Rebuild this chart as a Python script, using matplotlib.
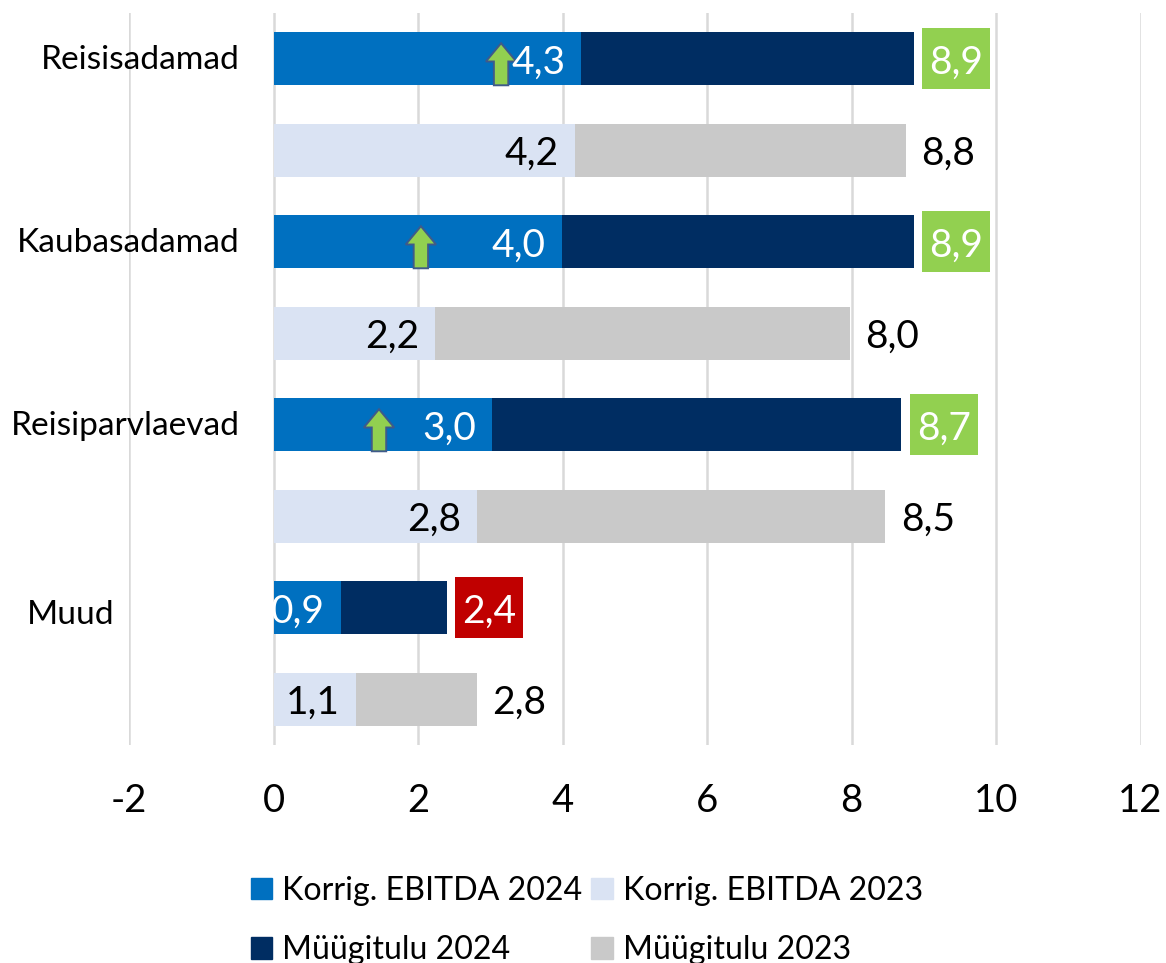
import matplotlib
matplotlib.use("Agg")
import matplotlib.pyplot as plt
from matplotlib.patches import FancyArrow
from matplotlib.path import Path

plt.rcParams['font.family'] = ['Lato', 'DejaVu Sans']

categories = ['Reisisadamad', 'Kaubasadamad', 'Reisiparvlaevad', 'Muud']
ebitda_2024 = [4.26, 3.99, 3.03, 0.93]
ebitda_2023 = [4.17, 2.24, 2.82, 1.14]
revenue_2024 = [8.86, 8.86, 8.69, 2.40]
revenue_2023 = [8.75, 7.98, 8.47, 2.82]
box_colors = ['#92D050', '#92D050', '#92D050', '#C00000']
arrow_x = [3.15, 2.04, 1.46]
xticks = [-2, 0, 2, 4, 6, 8, 10, 12]

C_E24, C_E23, C_R24, C_R23 = '#0070C0', '#DAE3F3', '#002D62', '#C9C9C9'
W, H = 1166, 963
fig = plt.figure(figsize=(W/100, H/100), dpi=100, facecolor='white')
ax = fig.add_axes([129/W, 1-745/H, (1140.5-129)/W, (745-13)/H])
ax.set_xlim(-2, 12)
ax.set_ylim(8, 0)
ax.set_axisbelow(True)
ax.grid(axis='x', color='#D9D9D9', lw=1.8)
for s in ax.spines.values():
    s.set_visible(False)
ax.set_yticks([])
ax.set_xticks(xticks, [str(t) for t in xticks])
ax.tick_params(axis='x', length=0, pad=27.5, labelsize=27.5)

FS = 28
BH = 0.58
fmt = lambda v: f'{v:.1f}'.replace('.', ',')


def tall_box(x0, y0, w, h, mutation_size):
    """Box of the text's width plus padding, with a fixed height in pixels."""
    cy = y0 + h / 2 + 4
    xa, xb = x0 - 7, x0 + w + 7
    ya, yb = cy - 30.5, cy + 30.5
    return Path([(xa, ya), (xb, ya), (xb, yb), (xa, yb), (xa, ya)],
                [Path.MOVETO, Path.LINETO, Path.LINETO, Path.LINETO, Path.CLOSEPOLY])


for i, cat in enumerate(categories):
    y24, y23 = 2*i + 0.5, 2*i + 1.5
    ax.barh(y24, revenue_2024[i], BH, color=C_R24, zorder=2)
    ax.barh(y24, ebitda_2024[i], BH, color=C_E24, zorder=3)
    ax.barh(y23, revenue_2023[i], BH, color=C_R23, zorder=2)
    ax.barh(y23, ebitda_2023[i], BH, color=C_E23, zorder=3)
    ax.annotate(fmt(ebitda_2024[i]), (ebitda_2024[i], y24), xytext=(-11.5, 0), textcoords='offset points',
                ha='right', va='center_baseline', color='white', fontsize=FS, zorder=6)
    ax.annotate(fmt(ebitda_2023[i]), (ebitda_2023[i], y23), xytext=(-11.5, 0), textcoords='offset points',
                ha='right', va='center_baseline', color='black', fontsize=FS, zorder=6)
    ax.annotate(fmt(revenue_2024[i]), (revenue_2024[i], y24), xytext=(11, 0), textcoords='offset points',
                ha='left', va='center_baseline', color='white', fontsize=FS, zorder=6,
                bbox=dict(boxstyle=tall_box, fc=box_colors[i], ec='none'))
    ax.annotate(fmt(revenue_2023[i]), (revenue_2023[i], y23), xytext=(11, 0), textcoords='offset points',
                ha='left', va='center_baseline', color='black', fontsize=FS, zorder=6)

# category labels
for i, cat in enumerate(categories):
    right = 239.5 if i < 3 else 114.5
    yy = 2*i + 0.5
    ax.annotate(cat, xy=(right/W, 0), xycoords=('figure fraction', 'data'),
                xytext=(right/W, yy + (0.05 if i == 3 else -0.02)), textcoords=('figure fraction', 'data'),
                ha='right', va='center_baseline', fontsize=24.1, color='black', annotation_clip=False)

# arrows
for i, x in enumerate(arrow_x):
    y = 2*i + 0.5
    ax.add_patch(FancyArrow(x, y + 0.29, 0, -0.46, width=0.2, head_width=0.42, head_length=0.2,
                            length_includes_head=True, fc='#92D050', ec='#3F5A8A', lw=1.4, zorder=5))

handles = [plt.Rectangle((0, 0), 1, 1, color=c) for c in (C_E24, C_R24, C_E23, C_R23)]
labels = ['Korrig. EBITDA 2024', 'Müügitulu 2024', 'Korrig. EBITDA 2023', 'Müügitulu 2023']
fig.legend(handles, labels, ncols=2, frameon=False, fontsize=23.1, loc='upper left',
           bbox_to_anchor=(241/W, 1-866/H), handlelength=0.66, handleheight=0.66, handletextpad=0.33,
           columnspacing=0.28, labelspacing=0.92, borderaxespad=0, borderpad=0.3)
fig.savefig('out.png', dpi=100)
